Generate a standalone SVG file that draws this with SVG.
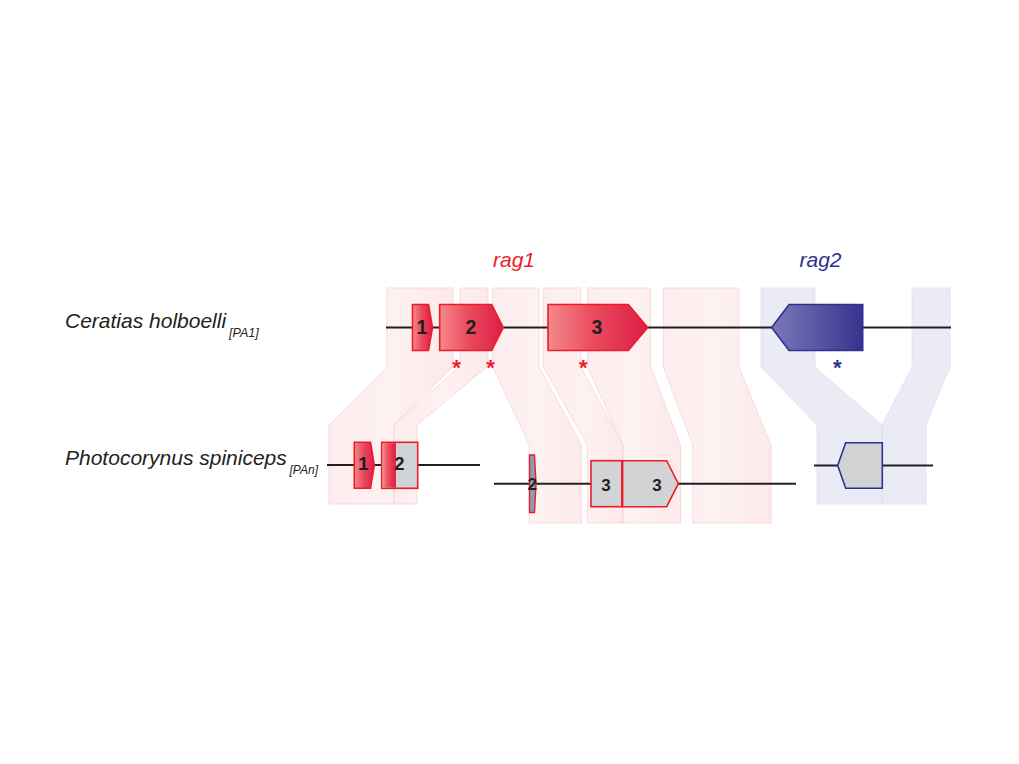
<svg xmlns="http://www.w3.org/2000/svg" width="1019" height="764" viewBox="0 0 1019 764">
<defs>
<linearGradient id="gRed" x1="0" y1="0" x2="1" y2="0">
<stop offset="0" stop-color="#f38a8d"/>
<stop offset="0.45" stop-color="#eb4b5e"/>
<stop offset="1" stop-color="#dc1d48"/>
</linearGradient>
<linearGradient id="gBlue" x1="0" y1="0" x2="1" y2="0">
<stop offset="0" stop-color="#7b79b9"/>
<stop offset="1" stop-color="#37338f"/>
</linearGradient>
<linearGradient id="gBand" x1="0" y1="0" x2="1" y2="0">
<stop offset="0" stop-color="#fbe0e3"/>
<stop offset="0.5" stop-color="#fce8ea"/>
<stop offset="1" stop-color="#fadadd"/>
</linearGradient>
<style>
.bandR{fill:url(#gBand);fill-opacity:0.6;stroke:#f8cfd3;stroke-width:0.7}
.bandB{fill:#e3e3f1;fill-opacity:0.7;stroke:#dcdcec;stroke-width:0.7}
.line{stroke:#231f20;stroke-width:2;fill:none}
.exR{fill:url(#gRed);stroke:#ee1c25;stroke-width:1.6}
.exB{fill:url(#gBlue);stroke:#2e3192;stroke-width:1.6}
.grR{fill:#d1d3d4;stroke:#ee1c25;stroke-width:1.6}
.grB{fill:#d1d3d4;stroke:#2e3192;stroke-width:1.6}
.num{font-family:"Liberation Sans",Arial,sans-serif;font-weight:bold;fill:#231f20;text-anchor:middle}
.star{font-family:"Liberation Sans",Arial,sans-serif;font-weight:bold;font-size:22px;text-anchor:middle}
.sp{font-family:"Liberation Sans",Arial,sans-serif;font-style:italic;fill:#231f20}
.gene{font-family:"Liberation Sans",Arial,sans-serif;font-style:italic;font-size:21px;text-anchor:middle}
</style>
</defs>
<rect width="1019" height="764" fill="#ffffff"/>

<g id="connectors">
<path class="bandR" d="M387,288 H453 V367 L394,425 V504 H329 V425 L387,367 Z"/>
<path class="bandR" d="M460,288 H488 V366 L417,425 V504 H394 V425 L460,366 Z"/>
<path class="bandR" d="M492.7,288 H539 V367 L581.5,445 V523 H529.3 V445 L492.7,367 Z"/>
<path class="bandR" d="M543.3,288 H580.7 V367 L623,445 V523 H587.3 V445 L543.3,367 Z"/>
<path class="bandR" d="M587.3,288 H650.7 V367 L680.5,445 V523 H623 V445 L587.3,367 Z"/>
<path class="bandR" d="M663.3,288 H739 V367 L771,445 V523 H692.7 V445 L663.3,367 Z"/>
<path class="bandB" d="M761,288 H815 V367 L882,425 V504 H817 V425 L761,367 Z"/>
<path class="bandB" d="M912,288 H950 V367 L926,425 V504 H882 V425 L912,367 Z"/>
</g>

<g id="scaffold-ceratias">
<line class="line" x1="386" y1="327.5" x2="951" y2="327.5"/>
</g>
<g id="scaffold-photo-1">
<line class="line" x1="327" y1="465" x2="480" y2="465"/>
</g>
<g id="scaffold-photo-2">
<line class="line" x1="494" y1="483.7" x2="796" y2="483.7"/>
</g>
<g id="scaffold-photo-3">
<line class="line" x1="814" y1="465.5" x2="933" y2="465.5"/>
</g>

<g id="ch-exon1">
<polygon class="exR" points="412.5,304.5 428.5,304.5 432.5,327.5 428.5,350.5 412.5,350.5"/>
<text class="num" x="422" y="334" font-size="19.5">1</text>
</g>
<g id="ch-exon2">
<polygon class="exR" points="439.7,304.5 491.7,304.5 503.3,327.5 491.7,350.5 439.7,350.5"/>
<text class="num" x="471" y="334" font-size="19.5">2</text>
</g>
<g id="ch-exon3">
<polygon class="exR" points="548,304.5 628.3,304.5 647.7,327.5 628.3,350.5 548,350.5"/>
<text class="num" x="597" y="334" font-size="19.5">3</text>
</g>
<g id="ch-rag2">
<polygon class="exB" points="771.7,327.5 789,304.5 862.7,304.5 862.7,350.5 789,350.5"/>
</g>

<g id="stars">
<text class="star" x="456.5" y="374.5" fill="#ee1c25">*</text>
<text class="star" x="490.5" y="374.5" fill="#ee1c25">*</text>
<text class="star" x="583.3" y="374.5" fill="#ee1c25">*</text>
<text class="star" x="837.3" y="374.5" fill="#2e3192">*</text>
</g>

<g id="ps-exon1">
<polygon class="exR" points="354.3,442.3 370.5,442.3 374.3,465.3 370.5,488.3 354.3,488.3"/>
<text class="num" x="363.5" y="470" font-size="18.5">1</text>
</g>
<g id="ps-exon2">
<rect class="grR" x="381.7" y="442.3" width="36" height="46"/>
<rect x="382.5" y="443.1" width="13" height="44.4" fill="url(#gRed)"/>
<line x1="395.5" y1="442.3" x2="395.5" y2="488.3" stroke="#ee1c25" stroke-width="0.8"/>
<text class="num" x="399.5" y="470" font-size="18.5">2</text>
</g>
<g id="ps-exon2b">
<polygon points="529.5,455 534.5,455 536,483.7 534.5,512.5 529.5,512.5" fill="#8b9db4" stroke="#ee1c25" stroke-width="1.4"/>
<text class="num" x="532.3" y="489.5" font-size="17">2</text>
</g>
<g id="ps-exon3a">
<rect class="grR" x="591" y="460.7" width="30.8" height="46"/>
<text class="num" x="606" y="490.5" font-size="17">3</text>
</g>
<g id="ps-exon3b">
<polygon class="grR" points="622.6,460.7 666.7,460.7 678.3,483.7 666.7,506.7 622.6,506.7"/>
<text class="num" x="657" y="490.5" font-size="17">3</text>
</g>
<g id="ps-rag2">
<polygon class="grB" points="837.7,465.5 845.7,442.7 882.3,442.7 882.3,488.3 845.7,488.3"/>
</g>

<g id="labels">
<text class="gene" x="514" y="267" fill="#ee1c25">rag1</text>
<text class="gene" x="820.5" y="267" fill="#2e3192">rag2</text>
<text class="sp" x="65" y="328.3" font-size="21">Ceratias holboelli</text>
<text class="sp" x="229" y="336.7" font-size="12.5">[PA1]</text>
<text class="sp" x="65" y="464.5" font-size="21">Photocorynus spiniceps</text>
<text class="sp" x="289.5" y="473.5" font-size="12">[PAn]</text>
</g>
</svg>
